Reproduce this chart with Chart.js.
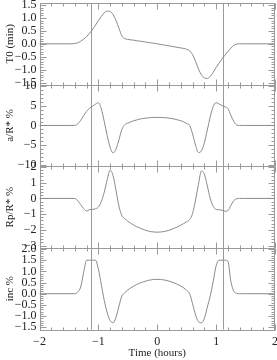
<!DOCTYPE html>
<html lang="en">
<head>
  <meta charset="UTF-8">
  <title>Transit fit residual shapes</title>
  <script src="https://cdn.jsdelivr.net/npm/chart.js"></script>
  <style>
    html, body {
      margin: 0;
      padding: 0;
      background: #fff;
    }
    .chart-container {
      position: relative;
      width: 277px;
      height: 360px;
    }
  </style>
</head>
<body>
  <div class="chart-container">
    <canvas id="panels"></canvas>
  </div>

  <script>
    // time axis (hours from mid-transit)
    const hours = [-2,
      -1.5, -1.45, -1.4, -1.35, -1.3, -1.25, -1.2, -1.15, -1.1, -1.05,
      -1.0, -0.95, -0.9, -0.85, -0.8, -0.75, -0.7, -0.65, -0.6, -0.55,
      -0.5, -0.45, -0.4, -0.35, -0.3, -0.25, -0.2, -0.15, -0.1, -0.05,
      0,
      0.05, 0.1, 0.15, 0.2, 0.25, 0.3, 0.35, 0.4, 0.45, 0.5,
      0.55, 0.6, 0.65, 0.7, 0.75, 0.8, 0.85, 0.9, 0.95, 1.0,
      1.05, 1.1, 1.15, 1.2, 1.25, 1.3, 1.35, 1.4, 1.45, 1.5,
      2];

    const t0Min = [0,
      0, 0, 0.01, 0.04, 0.1, 0.18, 0.28, 0.41, 0.55, 0.72,
      0.9, 1.06, 1.2, 1.27, 1.25, 1.13, 0.9, 0.6, 0.3, 0.2,
      0.17, 0.155, 0.14, 0.12, 0.105, 0.09, 0.07, 0.05, 0.035, 0.02,
      0,
      -0.02, -0.04, -0.06, -0.08, -0.1, -0.12, -0.14, -0.16, -0.18, -0.21,
      -0.27, -0.42, -0.68, -0.97, -1.2, -1.32, -1.34, -1.26, -1.1, -0.92,
      -0.75, -0.58, -0.44, -0.3, -0.17, -0.06, -0.01, 0, 0, 0,
      0];

    const aRsPct = [0,
      0, 0, 0, 0.4, 1.3, 2.5, 3.6, 4.4, 4.9, 5.4,
      5.8, 4.2, 1.0, -2.6, -5.6, -7.0, -6.0, -3.6, -1.0, 0.2,
      0.6, 0.9, 1.2, 1.4, 1.6, 1.75, 1.85, 1.95, 2.0, 2.05,
      2.05,
      2.05, 2.0, 1.95, 1.85, 1.75, 1.6, 1.4, 1.2, 0.9, 0.5,
      0.0, -2.2, -5.0, -6.9, -6.5, -4.4, -1.2, 2.2, 4.8, 5.8,
      5.45, 5.1, 4.75, 4.3, 2.6, 1.0, 0.1, 0, 0, 0,
      0];

    const rpRsPct = [0,
      0, 0, 0, -0.15, -0.4, -0.65, -0.8, -0.72, -0.7, -0.66,
      -0.55, -0.2, 0.4, 1.2, 1.8, 1.45, 0.5, -0.5, -1.1, -1.3,
      -1.45, -1.58, -1.7, -1.8, -1.88, -1.96, -2.03, -2.08, -2.12, -2.14,
      -2.15,
      -2.14, -2.12, -2.08, -2.03, -1.96, -1.88, -1.8, -1.7, -1.6, -1.48,
      -1.35, -0.95, -0.1, 0.9, 1.75, 1.55, 0.8, 0.0, -0.5, -0.7,
      -0.72, -0.75, -0.82, -0.78, -0.45, -0.15, -0.02, 0, 0, 0,
      0];

    const incPct = [0,
      0, 0, 0, 0.08, 0.3, 0.95, 1.5, 1.5, 1.5, 1.5,
      1.1, 0.4, -0.3, -0.85, -1.2, -1.3, -1.05, -0.55, -0.1, 0.05,
      0.17, 0.26, 0.34, 0.41, 0.47, 0.52, 0.56, 0.6, 0.62, 0.64,
      0.64,
      0.64, 0.62, 0.6, 0.56, 0.52, 0.47, 0.41, 0.34, 0.26, 0.15,
      0.0, -0.45, -0.95, -1.25, -1.3, -1.1, -0.6, -0.1, 0.55, 1.25,
      1.5, 1.5, 1.5, 1.45, 0.55, 0.12, 0.02, 0, 0, 0,
      0];

    // contact times marked by the vertical lines
    const transitEdges = [-1.12, 1.12];

    // tick labels
    const xTicks = [-2, -1, 0, 1, 2];
    const t0Ticks = [-1.5, -1, -0.5, 0, 0.5, 1, 1.5];
    const aRsTicks = [-10, -5, 0, 5, 10];
    const rpRsTicks = [-3, -2, -1, 0, 1, 2];
    const incTicks = [-1.5, -1, -0.5, 0, 0.5, 1, 1.5, 2];

    const lineGray = '#8a8a8a';
    const axisGray = '#9a9a9a';
    const textColor = '#222';
    const tickFont = { family: 'Liberation Serif', size: 12 };
    const titleFont = { family: 'Liberation Serif', size: 11 };

    const fmt = (v, dec) => (dec ? v.toFixed(dec) : String(v)).replace('-', '\u2212');

    function panelAxis(title, min, max, ticks, dec, weight) {
      return {
        type: 'linear',
        position: 'left',
        stack: 'panels',
        stackWeight: 1,
        weight: weight,
        min: min,
        max: max,
        afterBuildTicks: axis => { axis.ticks = ticks.map(v => ({ value: v })); },
        afterFit: axis => {
          axis.width = 39.5;
          axis.paddingTop = 0;
          axis.paddingBottom = 0;
        },
        grid: { display: false, drawTicks: false },
        border: { display: false },
        ticks: {
          autoSkip: false,
          color: textColor,
          font: tickFont,
          padding: 3,
          callback: v => fmt(v, dec)
        },
        title: {
          display: true,
          text: title,
          color: textColor,
          font: titleFont,
          padding: { top: 4, bottom: 0 }
        }
      };
    }

    const panels = [
      { id: 'yT0', data: t0Min, minor: 0.1 },
      { id: 'yARs', data: aRsPct, minor: 1 },
      { id: 'yRpRs', data: rpRsPct, minor: 0.2 },
      { id: 'yInc', data: incPct, minor: 0.1 }
    ];

    // IDL-style boxes with inward ticks, plus the contact lines
    const idlFrame = {
      id: 'idlFrame',
      beforeDatasetsDraw(chart) {
        const ctx = chart.ctx;
        const xs = chart.scales.x;
        ctx.save();
        ctx.strokeStyle = axisGray;
        ctx.lineWidth = 1;
        const seg = (x1, y1, x2, y2) => {
          ctx.beginPath();
          ctx.moveTo(x1, y1);
          ctx.lineTo(x2, y2);
          ctx.stroke();
        };
        panels.forEach(p => {
          const ys = chart.scales[p.id];
          const top = Math.round(ys.top) + 0.5;
          const bottom = Math.round(ys.bottom) + 0.5;
          const left = Math.round(xs.left) + 0.5;
          const right = Math.round(xs.right) - 0.5;
          ctx.strokeRect(left, top, right - left, bottom - top);

          const major = ys.ticks[1].value - ys.ticks[0].value;
          for (let k = Math.ceil(ys.min / p.minor - 1e-6); k * p.minor <= ys.max + 1e-9; k++) {
            const v = k * p.minor;
            const isMajor = Math.abs(v / major - Math.round(v / major)) < 1e-6;
            const len = isMajor ? 6 : 3;
            const y = Math.round(ys.getPixelForValue(v)) + 0.5;
            seg(left, y, left + len, y);
            seg(right - len, y, right, y);
          }
          for (let k = -10; k <= 10; k++) {
            const len = k % 5 === 0 ? 6 : 3;
            const x = Math.round(xs.getPixelForValue(k * 0.2)) + 0.5;
            seg(x, top, x, top + len);
            seg(x, bottom - len, x, bottom);
          }
        });
        const area = chart.chartArea;
        transitEdges.forEach(t => {
          const x = Math.round(xs.getPixelForValue(t)) + 0.5;
          seg(x, area.top, x, area.bottom);
        });
        ctx.restore();
      }
    };

    const ctx = document.getElementById('panels').getContext('2d');

    new Chart(ctx, {
      type: 'line',
      data: {
        datasets: panels.map(p => ({
          data: hours.map((h, i) => ({ x: h, y: p.data[i] })),
          yAxisID: p.id,
          borderColor: lineGray,
          borderWidth: 1,
          pointRadius: 0,
          fill: false,
          cubicInterpolationMode: 'monotone'
        }))
      },
      options: {
        responsive: true,
        maintainAspectRatio: false,
        animation: false,
        layout: { padding: { top: 3, right: 2, left: 0, bottom: 0 } },
        plugins: {
          legend: { display: false },
          tooltip: { enabled: false }
        },
        scales: {
          x: {
            type: 'linear',
            position: 'bottom',
            min: -2,
            max: 2,
            afterBuildTicks: axis => { axis.ticks = xTicks.map(v => ({ value: v })); },
            afterFit: axis => {
              axis.height = 30.5;
              axis.paddingLeft = 0;
              axis.paddingRight = 0;
            },
            grid: { display: false, drawTicks: false },
            border: { display: false },
            ticks: {
              autoSkip: false,
              maxRotation: 0,
              color: textColor,
              font: tickFont,
              padding: 5,
              callback: v => fmt(v, 0)
            },
            title: {
              display: true,
              text: 'Time (hours)',
              color: textColor,
              font: titleFont,
              padding: { top: 0, bottom: 0 }
            }
          },
          yT0: panelAxis('T0 (min)', -1.58, 1.58, t0Ticks, 1, 4),
          yARs: panelAxis('a/R* %', -10.4, 10.4, aRsTicks, 0, 3),
          yRpRs: panelAxis('Rp/R* %', -3.15, 2.05, rpRsTicks, 0, 2),
          yInc: panelAxis('inc %', -1.6, 2.05, incTicks, 1, 1)
        }
      },
      plugins: [idlFrame]
    });
  </script>
</body>
</html>
